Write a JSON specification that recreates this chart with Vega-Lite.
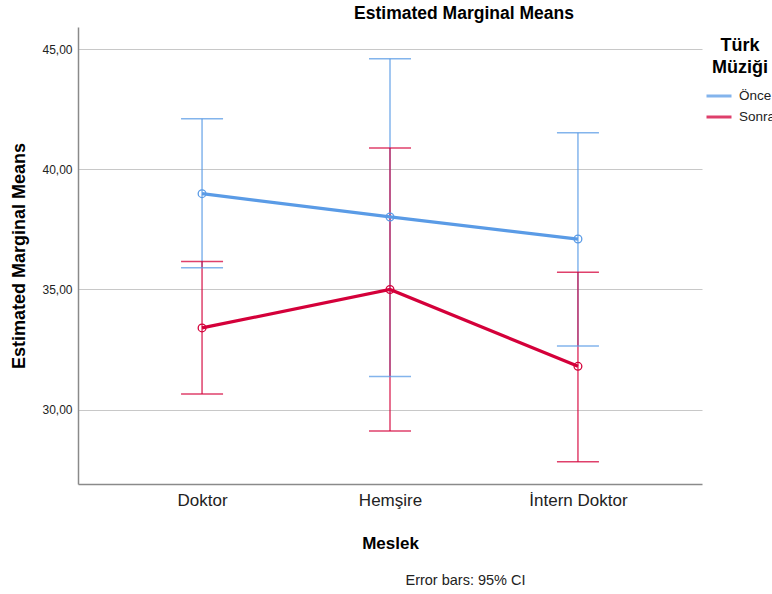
{
  "$schema": "https://vega.github.io/schema/vega-lite/v6.json",
  "width": 624,
  "height": 457,
  "autosize": {"type": "none"},
  "padding": {"left": 78, "top": 27, "right": 70, "bottom": 110},
  "background": "white",
  "title": {"text": "Estimated Marginal Means", "fontSize": 17.5, "font": "Liberation Sans", "fontWeight": "bold", "color": "#000000", "dx": 74, "offset": 5},
  "config": {
    "font": "Liberation Sans",
    "view": {"stroke": null}
  },
  "data": {
    "values": [
      {"meslek": "Doktor", "group": "Önce", "mean": 38.99, "lower": 35.90, "upper": 42.11},
      {"meslek": "Hemşire", "group": "Önce", "mean": 38.02, "lower": 31.375, "upper": 44.61},
      {"meslek": "İntern Doktor", "group": "Önce", "mean": 37.10, "lower": 32.65, "upper": 41.53},
      {"meslek": "Doktor", "group": "Sonra", "mean": 33.40, "lower": 30.65, "upper": 36.17},
      {"meslek": "Hemşire", "group": "Sonra", "mean": 35.00, "lower": 29.11, "upper": 40.89},
      {"meslek": "İntern Doktor", "group": "Sonra", "mean": 31.80, "lower": 27.83, "upper": 35.72}
    ]
  },
  "encoding": {
    "color": {
      "field": "group", "type": "nominal",
      "scale": {"domain": ["Önce", "Sonra"], "range": ["#5a9be6", "#d4003a"]},
      "legend": {
        "title": ["Türk", "Müziği"], "orient": "right", "offset": -7, "padding": 10,
        "titleFontSize": 18, "titleFontWeight": "bold", "titleColor": "#000000",
        "titleAlign": "center", "titleAnchor": "middle", "titleLineHeight": 22, "titlePadding": 5,
        "symbolType": "stroke", "symbolSize": 625, "symbolStrokeWidth": 3,
        "labelFontSize": 13.5, "labelColor": "#222222", "labelOffset": 6, "rowPadding": -1, "labelLimit": 200
      }
    }
  },
  "layer": [
    {
      "mark": {"type": "rule", "strokeWidth": 1.5, "opacity": 0.75},
      "encoding": {
        "x": {"field": "meslek", "type": "nominal", "sort": ["Doktor", "Hemşire", "İntern Doktor"], "scale": {"type": "point", "padding": 0.66}, "axis": null},
        "y": {"field": "lower", "type": "quantitative", "title": "Estimated Marginal Means", "scale": {"domain": [26.9, 45.93], "nice": false, "zero": false},
          "axis": {"values": [30, 35, 40, 45], "labelExpr": "replace(format(datum.value, '.2f'), '.', ',')", "grid": true, "gridColor": "#c8c8c8", "gridWidth": 1.2, "domainColor": "#8a8a8a", "domainWidth": 1.5, "ticks": false, "labelFontSize": 12, "labelColor": "#222222", "labelPadding": 6, "titleFontSize": 18, "titleFontWeight": "bold", "titleColor": "#000000", "titlePadding": 13}},
        "y2": {"field": "upper"}
      }
    },
    {
      "mark": {"type": "tick", "size": 42, "thickness": 1.5, "opacity": 0.75},
      "encoding": {
        "x": {"field": "meslek", "type": "nominal", "sort": ["Doktor", "Hemşire", "İntern Doktor"], "scale": {"type": "point", "padding": 0.66}, "axis": null},
        "y": {"field": "upper", "type": "quantitative", "title": "Estimated Marginal Means", "scale": {"domain": [26.9, 45.93], "nice": false, "zero": false},
          "axis": {"values": [30, 35, 40, 45], "labelExpr": "replace(format(datum.value, '.2f'), '.', ',')", "grid": true, "gridColor": "#c8c8c8", "gridWidth": 1.2, "domainColor": "#8a8a8a", "domainWidth": 1.5, "ticks": false, "labelFontSize": 12, "labelColor": "#222222", "labelPadding": 6, "titleFontSize": 18, "titleFontWeight": "bold", "titleColor": "#000000", "titlePadding": 13}}
      }
    },
    {
      "mark": {"type": "tick", "size": 42, "thickness": 1.5, "opacity": 0.75},
      "encoding": {
        "x": {"field": "meslek", "type": "nominal", "sort": ["Doktor", "Hemşire", "İntern Doktor"], "scale": {"type": "point", "padding": 0.66}, "axis": null},
        "y": {"field": "lower", "type": "quantitative", "title": "Estimated Marginal Means", "scale": {"domain": [26.9, 45.93], "nice": false, "zero": false},
          "axis": {"values": [30, 35, 40, 45], "labelExpr": "replace(format(datum.value, '.2f'), '.', ',')", "grid": true, "gridColor": "#c8c8c8", "gridWidth": 1.2, "domainColor": "#8a8a8a", "domainWidth": 1.5, "ticks": false, "labelFontSize": 12, "labelColor": "#222222", "labelPadding": 6, "titleFontSize": 18, "titleFontWeight": "bold", "titleColor": "#000000", "titlePadding": 13}}
      }
    },
    {
      "mark": {"type": "line", "strokeWidth": 3.2},
      "encoding": {
        "x": {"field": "meslek", "type": "nominal", "sort": ["Doktor", "Hemşire", "İntern Doktor"], "scale": {"type": "point", "padding": 0.66},
          "axis": {"orient": "bottom", "title": "Meslek", "labelAngle": 0, "ticks": false, "grid": false, "domainColor": "#8a8a8a", "domainWidth": 1.5, "labelFontSize": 17, "labelColor": "#222222", "labelPadding": 8, "titleFontSize": 17, "titleFontWeight": "bold", "titleColor": "#000000", "titlePadding": 27}},
        "y": {"field": "mean", "type": "quantitative", "title": "Estimated Marginal Means", "scale": {"domain": [26.9, 45.93], "nice": false, "zero": false},
          "axis": {"values": [30, 35, 40, 45], "labelExpr": "replace(format(datum.value, '.2f'), '.', ',')", "grid": true, "gridColor": "#c8c8c8", "gridWidth": 1.2, "domainColor": "#8a8a8a", "domainWidth": 1.5, "ticks": false, "labelFontSize": 12, "labelColor": "#222222", "labelPadding": 6, "titleFontSize": 18, "titleFontWeight": "bold", "titleColor": "#000000", "titlePadding": 13}}
      }
    },
    {
      "mark": {"type": "point", "filled": false, "size": 60, "strokeWidth": 1.3, "opacity": 1},
      "encoding": {
        "x": {"field": "meslek", "type": "nominal", "sort": ["Doktor", "Hemşire", "İntern Doktor"], "scale": {"type": "point", "padding": 0.66},
          "axis": {"orient": "bottom", "title": "Error bars: 95% CI", "labels": false, "ticks": false, "domain": false, "grid": false, "titleFontSize": 14.5, "titleFontWeight": "normal", "titleColor": "#222222", "titlePadding": 89, "titleX": 387}},
        "y": {"field": "mean", "type": "quantitative", "title": "Estimated Marginal Means", "scale": {"domain": [26.9, 45.93], "nice": false, "zero": false},
          "axis": {"values": [30, 35, 40, 45], "labelExpr": "replace(format(datum.value, '.2f'), '.', ',')", "grid": true, "gridColor": "#c8c8c8", "gridWidth": 1.2, "domainColor": "#8a8a8a", "domainWidth": 1.5, "ticks": false, "labelFontSize": 12, "labelColor": "#222222", "labelPadding": 6, "titleFontSize": 18, "titleFontWeight": "bold", "titleColor": "#000000", "titlePadding": 13}}
      }
    }
  ],
  "resolve": {"axis": {"x": "independent"}}
}
